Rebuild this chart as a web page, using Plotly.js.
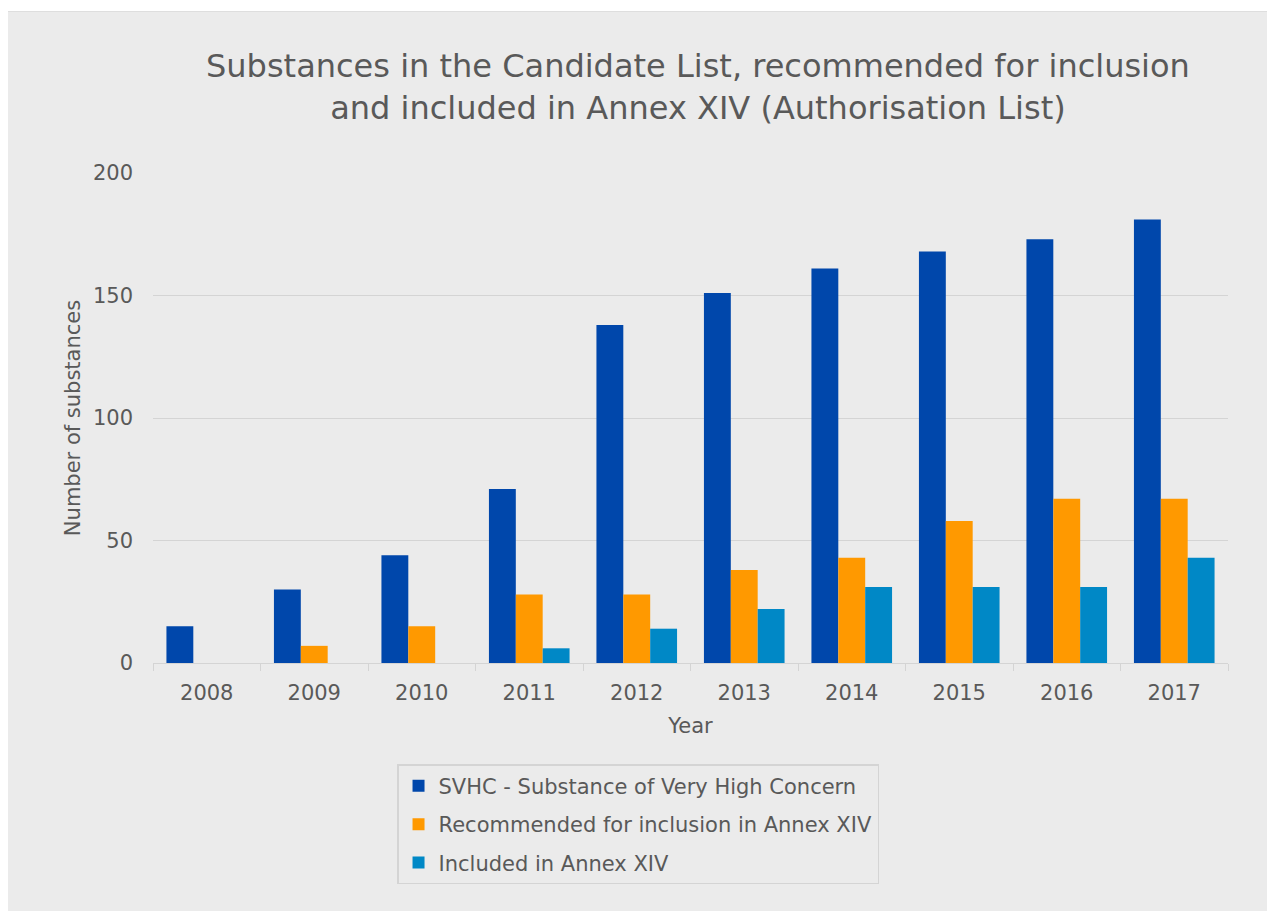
<!DOCTYPE html>
<html>
<head>
<meta charset="utf-8">
<script src="https://cdn.plot.ly/plotly-3.0.1.min.js"></script>
<style>
  html, body { margin: 0; padding: 0; background: #ffffff; }
  #chart { position: absolute; left: 8px; top: 11px; width: 1259px; height: 900px; border-top: 1px solid #dedede; box-sizing: border-box; }
</style>
</head>
<body>
<div id="chart"></div>
<script>
const years = ['2008', '2009', '2010', '2011', '2012', '2013', '2014', '2015', '2016', '2017'];
const svhc = [15, 30, 44, 71, 138, 151, 161, 168, 173, 181];
const recommended = [0, 7, 15, 28, 28, 38, 43, 58, 67, 67];
const included = [0, 0, 0, 6, 14, 22, 31, 31, 31, 43];

const seriesNames = [
  'SVHC - Substance of Very High Concern',
  'Recommended for inclusion in Annex XIV',
  'Included in Annex XIV'
];
const seriesColors = ['#0047AB', '#FF9900', '#0088C6'];
const seriesValues = [svhc, recommended, included];

const textColor = '#595959';
const fontFamily = 'Verdana, "DejaVu Sans", sans-serif';

const data = seriesValues.map((vals, i) => ({
  type: 'bar',
  x: years,
  y: vals,
  name: seriesNames[i],
  legendgroup: 'g' + i,
  marker: { color: seriesColors[i], line: { width: 0 } },
  hoverinfo: 'x+y+name'
}));

const layout = {
  width: 1259,
  height: 899,
  paper_bgcolor: '#ebebeb',
  plot_bgcolor: '#ebebeb',
  font: { family: fontFamily, color: textColor, size: 21 },
  margin: { l: 145, r: 39, t: 161, b: 248, pad: 0 },
  title: {
    text: 'Substances in the Candidate List, recommended for inclusion<br>and included in Annex XIV (Authorisation List)',
    font: { family: fontFamily, size: 32, color: textColor },
    x: 0.548,
    xanchor: 'center',
    yref: 'paper',
    y: 1,
    yanchor: 'bottom',
    pad: { b: 96 }
  },
  barmode: 'group',
  bargap: 0.25,
  bargroupgap: 0,
  xaxis: {
    type: 'category',
    showline: true,
    linecolor: '#d4d4d4',
    linewidth: 1,
    ticks: 'outside',
    tickson: 'boundaries',
    ticklen: 7,
    tickcolor: '#d4d4d4',
    tickfont: { size: 21, color: textColor },
    ticklabelstandoff: 11,
    showgrid: false,
    title: { text: 'Year', font: { size: 21, color: textColor }, standoff: 14 }
  },
  yaxis: {
    range: [0, 200],
    dtick: 50,
    showgrid: true,
    gridcolor: '#d4d4d4',
    gridwidth: 1,
    zeroline: false,
    showline: false,
    ticks: '',
    tickfont: { size: 21, color: textColor },
    ticklabelstandoff: 19,
    title: { text: 'Number of substances', font: { size: 21, color: textColor }, standoff: 6 }
  },
  showlegend: true,
  legend: {
    x: 0.227,
    xanchor: 'left',
    y: -0.2065,
    yanchor: 'top',
    orientation: 'v',
    traceorder: 'grouped',
    tracegroupgap: 8,
    bgcolor: 'rgba(0,0,0,0)',
    bordercolor: '#d4d4d4',
    borderwidth: 1.5,
    font: { size: 21, color: textColor }
  }
};

Plotly.newPlot('chart', data, layout, { displayModeBar: false, responsive: false });
</script>
</body>
</html>
